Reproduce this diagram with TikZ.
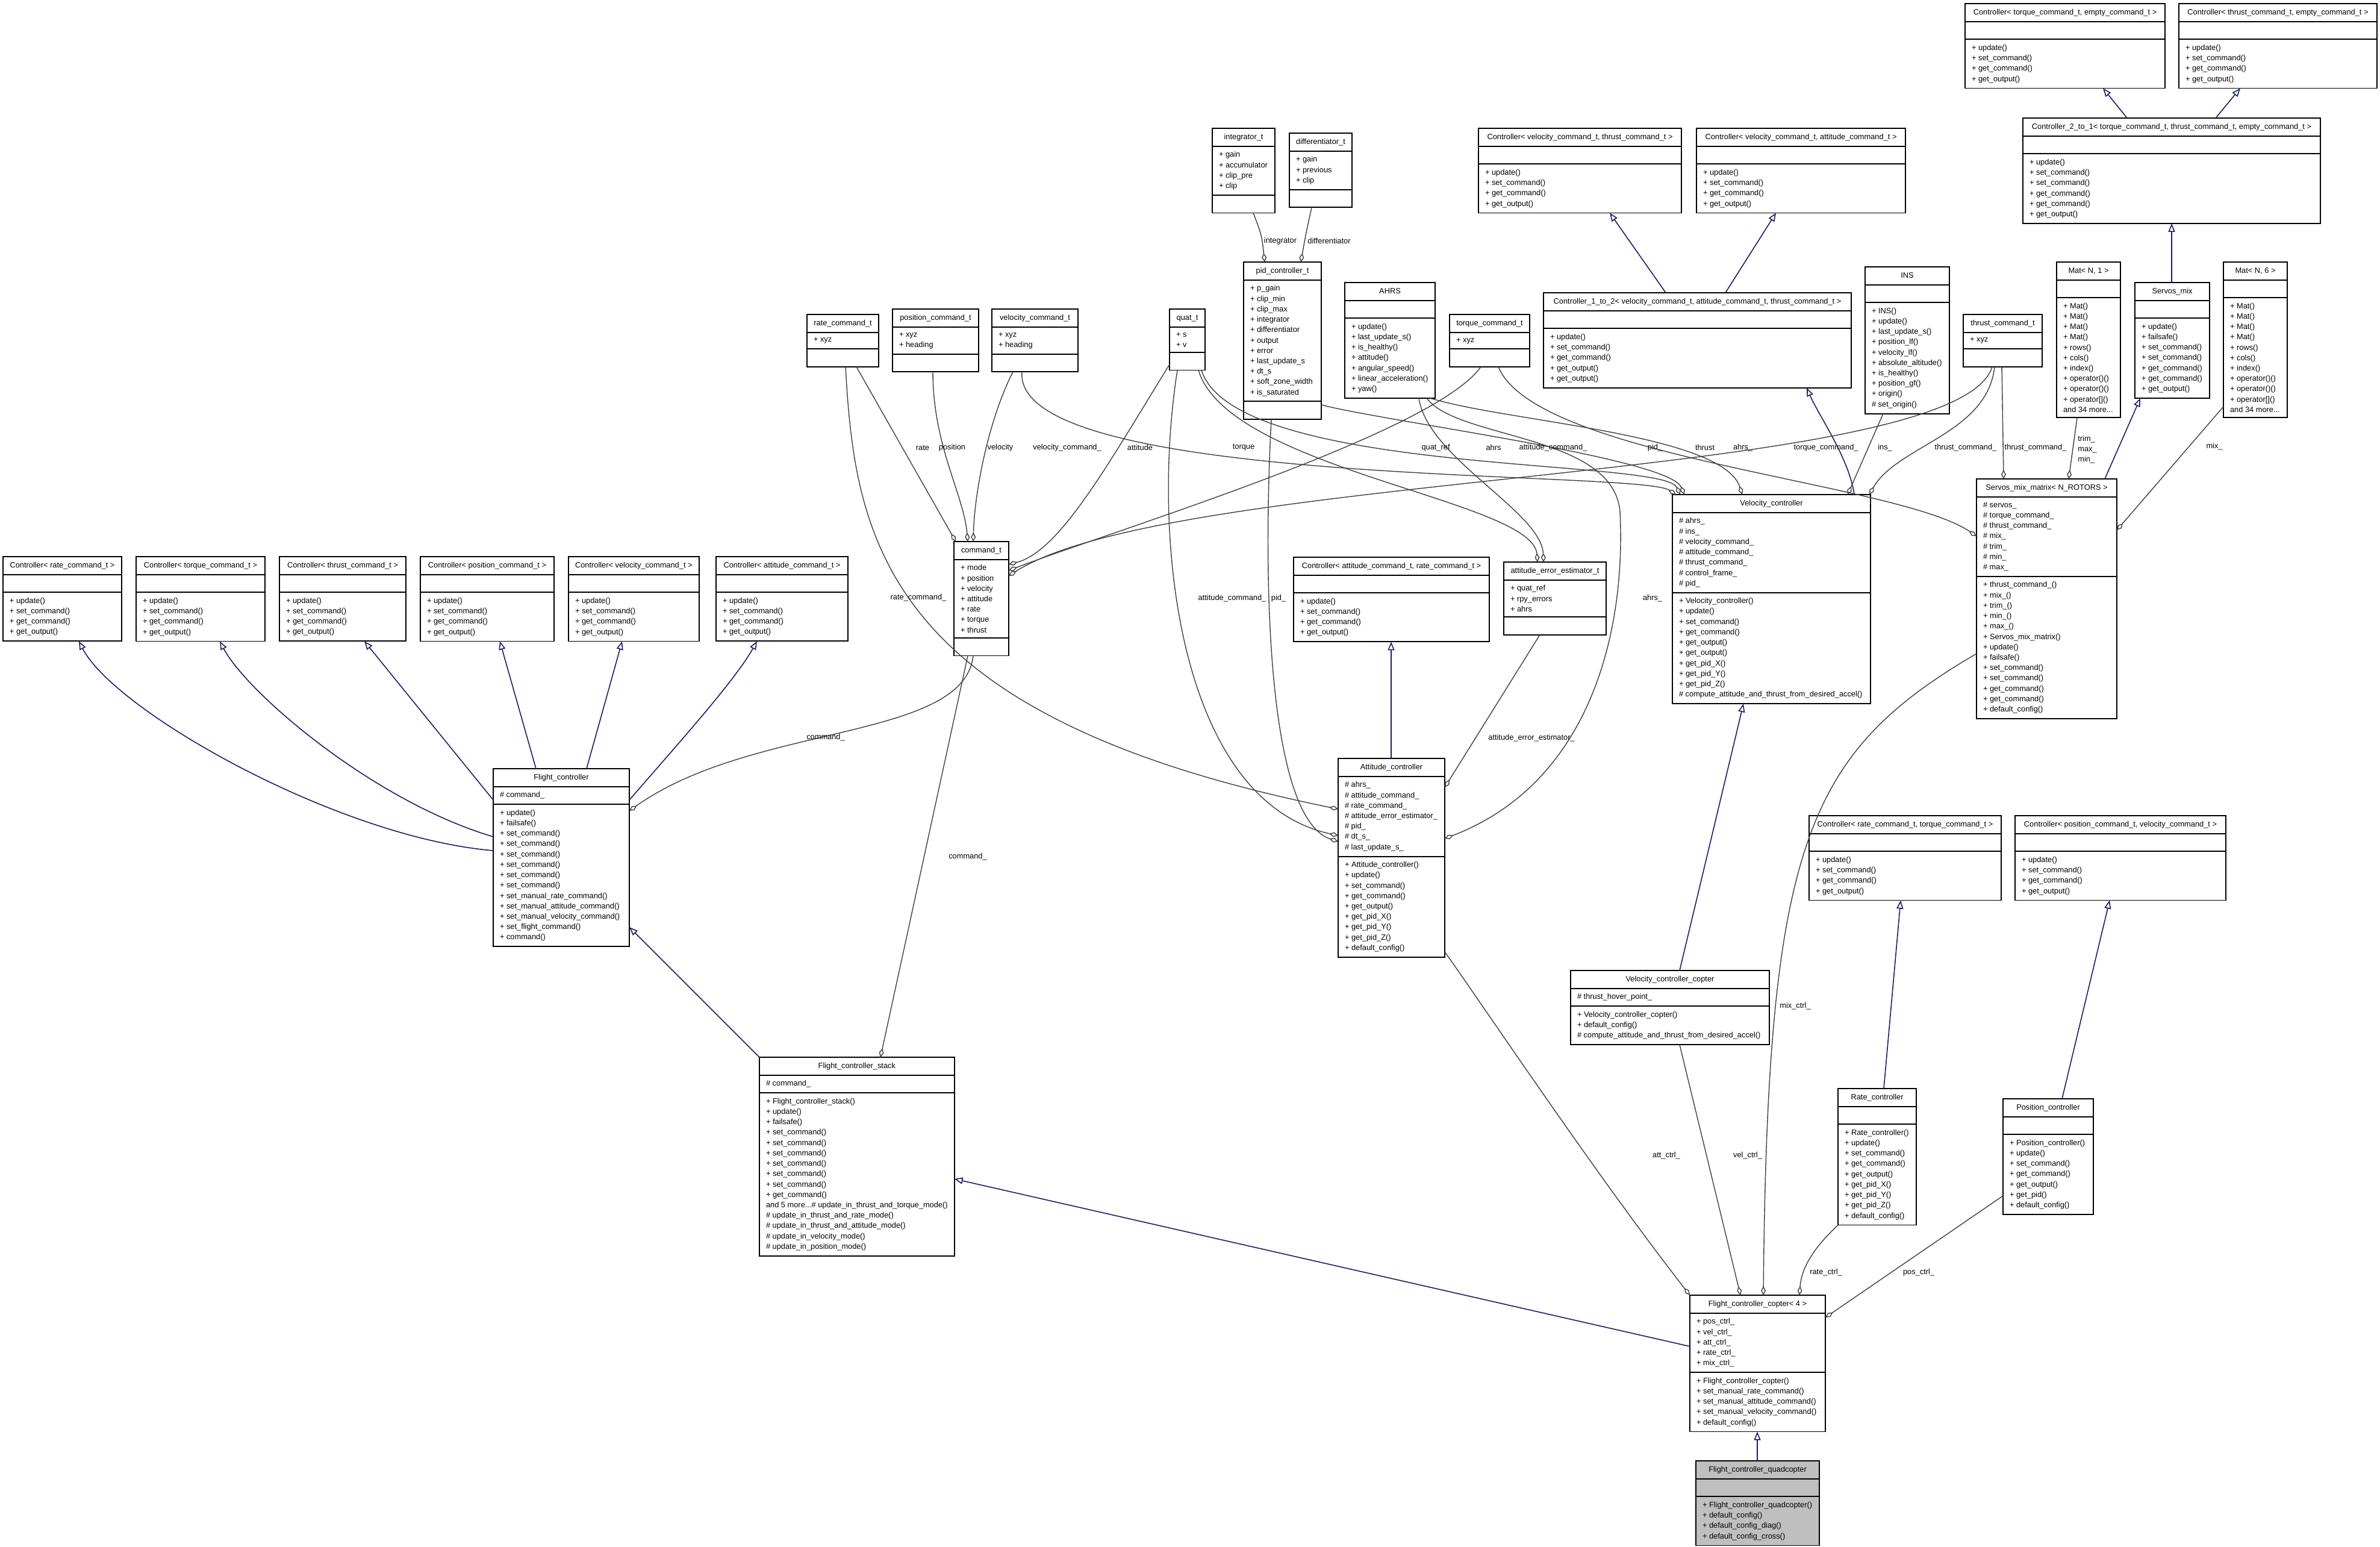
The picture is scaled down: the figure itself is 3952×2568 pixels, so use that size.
\documentclass[tikz,border=0pt]{standalone}
\usepackage{fontspec}
\setmainfont{Liberation Sans}
\usetikzlibrary{shapes.multipart,arrows.meta}
\definecolor{edgegray}{HTML}{404040}
\definecolor{inhblue}{HTML}{191970}
\definecolor{focusgray}{HTML}{BFBFBF}
\newcommand\clsfont{\fontsize{3.65}{4.9}\selectfont}
\newcommand\tstrut{\rule[-0.7pt]{0pt}{3.45pt}}
\newcommand\estrut{\rule{0pt}{3.4pt}}
\newcommand\ctlops{+ update()\\+ set\_command()\\+ get\_command()\\+ get\_output()}
\tikzset{
  cls/.style={rectangle split, rectangle split parts=3,
    rectangle split part align={center,left,left},
    draw=black, line width=0.55pt, fill=white, anchor=north west,
    inner xsep=1.1mm, inner ysep=0.78mm, outer sep=0pt, align=left},
  agg/.style={draw=edgegray, line width=0.4pt, {Diamond[open,length=1.5mm,width=0.8mm]}-},
  inh/.style={draw=inhblue, line width=0.45pt, -{Triangle[open,length=1.4mm,width=1.1mm]}},
  lbl/.style={inner sep=0pt, align=center}
}
\begin{document}
\begin{tikzpicture}[x=0.1mm, y=-0.1mm, every node/.style={font=\clsfont}]
\useasboundingbox (0,0) rectangle (3952,2568);

% generic controllers, left row
\node[cls, minimum width=19.7mm] (ctrte) at (5,924) {\tstrut Controller< rate\_command\_t >\nodepart{two}\estrut\nodepart{three}\ctlops};
\node[cls, minimum width=21.4mm] (cttrq) at (226,924) {\tstrut Controller< torque\_command\_t >\nodepart{two}\estrut\nodepart{three}\ctlops};
\node[cls, minimum width=21.0mm] (ctthr) at (464,924) {\tstrut Controller< thrust\_command\_t >\nodepart{two}\estrut\nodepart{three}\ctlops};
\node[cls, minimum width=22.2mm] (ctpos) at (698,924) {\tstrut Controller< position\_command\_t >\nodepart{two}\estrut\nodepart{three}\ctlops};
\node[cls, minimum width=20.6mm] (ctvel) at (944,924) {\tstrut Controller< velocity\_command\_t >\nodepart{two}\estrut\nodepart{three}\ctlops};
\node[cls, minimum width=21.9mm] (ctatt) at (1189,924) {\tstrut Controller< attitude\_command\_t >\nodepart{two}\estrut\nodepart{three}\ctlops};

% flight controllers
\node[cls, minimum width=22.6mm] (fc) at (819,1276) {\tstrut Flight\_controller\nodepart{two}\# command\_\nodepart{three}+ update()\\+ failsafe()\\+ set\_command()\\+ set\_command()\\+ set\_command()\\+ set\_command()\\+ set\_command()\\+ set\_command()\\+ set\_manual\_rate\_command()\\+ set\_manual\_attitude\_command()\\+ set\_manual\_velocity\_command()\\+ set\_flight\_command()\\+ command()};
\node[cls, minimum width=32.3mm] (fcs) at (1261,1755) {\tstrut Flight\_controller\_stack\nodepart{two}\# command\_\nodepart{three}+ Flight\_controller\_stack()\\+ update()\\+ failsafe()\\+ set\_command()\\+ set\_command()\\+ set\_command()\\+ set\_command()\\+ set\_command()\\+ set\_command()\\+ get\_command()\\and 5 more...\# update\_in\_thrust\_and\_torque\_mode()\\\# update\_in\_thrust\_and\_rate\_mode()\\\# update\_in\_thrust\_and\_attitude\_mode()\\\# update\_in\_velocity\_mode()\\\# update\_in\_position\_mode()};
\node[cls, minimum width=22.5mm] (fcc) at (2806,2150) {\tstrut Flight\_controller\_copter< 4 >\nodepart{two}+ pos\_ctrl\_\\+ vel\_ctrl\_\\+ att\_ctrl\_\\+ rate\_ctrl\_\\+ mix\_ctrl\_\nodepart{three}+ Flight\_controller\_copter()\\+ set\_manual\_rate\_command()\\+ set\_manual\_attitude\_command()\\+ set\_manual\_velocity\_command()\\+ default\_config()};
\node[cls, fill=focusgray, minimum width=20.5mm] (fcq) at (2816,2425) {\tstrut Flight\_controller\_quadcopter\nodepart{two}\estrut\nodepart{three}+ Flight\_controller\_quadcopter()\\+ default\_config()\\+ default\_config\_diag()\\+ default\_config\_cross()};

% command types
\node[cls, minimum width=9.1mm] (cmd) at (1584,899) {\tstrut command\_t\nodepart{two}+ mode\\+ position\\+ velocity\\+ attitude\\+ rate\\+ torque\\+ thrust\nodepart{three}\estrut};
\node[cls, minimum width=11.9mm] (ratecmd) at (1340,522) {\tstrut rate\_command\_t\nodepart{two}+ xyz\nodepart{three}\estrut};
\node[cls, minimum width=14.3mm] (poscmd) at (1482,513) {\tstrut position\_command\_t\nodepart{two}+ xyz\\+ heading\nodepart{three}\estrut};
\node[cls, minimum width=14.3mm] (velcmd) at (1647,513) {\tstrut velocity\_command\_t\nodepart{two}+ xyz\\+ heading\nodepart{three}\estrut};
\node[cls, minimum width=5.9mm] (quat) at (1942,513) {\tstrut quat\_t\nodepart{two}+ s\\+ v\nodepart{three}\estrut};
\node[cls, minimum width=13.3mm] (trqcmd) at (2407,522) {\tstrut torque\_command\_t\nodepart{two}+ xyz\nodepart{three}\estrut};
\node[cls, minimum width=13.1mm] (thrcmd) at (3260,522) {\tstrut thrust\_command\_t\nodepart{two}+ xyz\nodepart{three}\estrut};

% pid and estimators
\node[cls, minimum width=10.4mm] (integ) at (2013,213) {\tstrut integrator\_t\nodepart{two}+ gain\\+ accumulator\\+ clip\_pre\\+ clip\nodepart{three}\estrut};
\node[cls, minimum width=10.4mm] (diff) at (2141,221) {\tstrut differentiator\_t\nodepart{two}+ gain\\+ previous\\+ clip\nodepart{three}\estrut};
\node[cls, minimum width=12.9mm] (pid) at (2065,435) {\tstrut pid\_controller\_t\nodepart{two}+ p\_gain\\+ clip\_min\\+ clip\_max\\+ integrator\\+ differentiator\\+ output\\+ error\\+ last\_update\_s\\+ dt\_s\\+ soft\_zone\_width\\+ is\_saturated\nodepart{three}\estrut};
\node[cls, minimum width=15.0mm] (ahrs) at (2233,469) {\tstrut AHRS\nodepart{two}\estrut\nodepart{three}+ update()\\+ last\_update\_s()\\+ is\_healthy()\\+ attitude()\\+ angular\_speed()\\+ linear\_acceleration()\\+ yaw()};
\node[cls, minimum width=14.0mm] (ins) at (3097,443) {\tstrut INS\nodepart{two}\estrut\nodepart{three}+ INS()\\+ update()\\+ last\_update\_s()\\+ position\_lf()\\+ velocity\_lf()\\+ absolute\_altitude()\\+ is\_healthy()\\+ position\_gf()\\+ origin()\\\# set\_origin()};
\node[cls, minimum width=17.0mm] (aee) at (2497,933) {\tstrut attitude\_error\_estimator\_t\nodepart{two}+ quat\_ref\\+ rpy\_errors\\+ ahrs\nodepart{three}\estrut};

% velocity branch
\node[cls, minimum width=33.7mm] (ctvt) at (2455,213) {\tstrut Controller< velocity\_command\_t, thrust\_command\_t >\nodepart{two}\estrut\nodepart{three}\ctlops};
\node[cls, minimum width=34.7mm] (ctva) at (2817,213) {\tstrut Controller< velocity\_command\_t, attitude\_command\_t >\nodepart{two}\estrut\nodepart{three}\ctlops};
\node[cls, minimum width=51.1mm] (c12) at (2563,486) {\tstrut Controller\_1\_to\_2< velocity\_command\_t, attitude\_command\_t, thrust\_command\_t >\nodepart{two}\estrut\nodepart{three}+ update()\\+ set\_command()\\+ get\_command()\\+ get\_output()\\+ get\_output()};
\node[cls, minimum width=32.9mm] (velc) at (2777,821) {\tstrut Velocity\_controller\nodepart{two}\# ahrs\_\\\# ins\_\\\# velocity\_command\_\\\# attitude\_command\_\\\# thrust\_command\_\\\# control\_frame\_\\\# pid\_\nodepart{three}+ Velocity\_controller()\\+ update()\\+ set\_command()\\+ get\_command()\\+ get\_output()\\+ get\_output()\\+ get\_pid\_X()\\+ get\_pid\_Y()\\+ get\_pid\_Z()\\\# compute\_attitude\_and\_thrust\_from\_desired\_accel()};
\node[cls, minimum width=33.0mm] (velcc) at (2608,1611) {\tstrut Velocity\_controller\_copter\nodepart{two}\# thrust\_hover\_point\_\nodepart{three}+ Velocity\_controller\_copter()\\+ default\_config()\\\# compute\_attitude\_and\_thrust\_from\_desired\_accel()};

% attitude branch
\node[cls, minimum width=32.5mm] (ctar) at (2148,925) {\tstrut Controller< attitude\_command\_t, rate\_command\_t >\nodepart{two}\estrut\nodepart{three}\ctlops};
\node[cls, minimum width=17.7mm] (attc) at (2222,1259) {\tstrut Attitude\_controller\nodepart{two}\# ahrs\_\\\# attitude\_command\_\\\# rate\_command\_\\\# attitude\_error\_estimator\_\\\# pid\_\\\# dt\_s\_\\\# last\_update\_s\_\nodepart{three}+ Attitude\_controller()\\+ update()\\+ set\_command()\\+ get\_command()\\+ get\_output()\\+ get\_pid\_X()\\+ get\_pid\_Y()\\+ get\_pid\_Z()\\+ default\_config()};

% rate and position branch
\node[cls, minimum width=31.9mm] (ctrt) at (3004,1354) {\tstrut Controller< rate\_command\_t, torque\_command\_t >\nodepart{two}\estrut\nodepart{three}\ctlops};
\node[cls, minimum width=35.0mm] (ctpv) at (3346,1354) {\tstrut Controller< position\_command\_t, velocity\_command\_t >\nodepart{two}\estrut\nodepart{three}\ctlops};
\node[cls, minimum width=13.0mm] (ratec) at (3052,1807) {\tstrut Rate\_controller\nodepart{two}\estrut\nodepart{three}+ Rate\_controller()\\+ update()\\+ set\_command()\\+ get\_command()\\+ get\_output()\\+ get\_pid\_X()\\+ get\_pid\_Y()\\+ get\_pid\_Z()\\+ default\_config()};
\node[cls, minimum width=15.0mm] (posc) at (3326,1824) {\tstrut Position\_controller\nodepart{two}\estrut\nodepart{three}+ Position\_controller()\\+ update()\\+ set\_command()\\+ get\_command()\\+ get\_output()\\+ get\_pid()\\+ default\_config()};

% mixing branch
\node[cls, minimum width=33.2mm] (cte1) at (3263,6) {\tstrut Controller< torque\_command\_t, empty\_command\_t >\nodepart{two}\estrut\nodepart{three}\ctlops};
\node[cls, minimum width=32.9mm] (cte2) at (3618,6) {\tstrut Controller< thrust\_command\_t, empty\_command\_t >\nodepart{two}\estrut\nodepart{three}\ctlops};
\node[cls, minimum width=49.4mm] (c21) at (3359,196) {\tstrut Controller\_2\_to\_1< torque\_command\_t, thrust\_command\_t, empty\_command\_t >\nodepart{two}\estrut\nodepart{three}+ update()\\+ set\_command()\\+ set\_command()\\+ get\_command()\\+ get\_command()\\+ get\_output()};
\node[cls, minimum width=10.6mm] (matn1) at (3415,435) {\tstrut Mat< N, 1 >\nodepart{two}\estrut\nodepart{three}+ Mat()\\+ Mat()\\+ Mat()\\+ Mat()\\+ rows()\\+ cols()\\+ index()\\+ operator()()\\+ operator()()\\+ operator[]()\\and 34 more...};
\node[cls, minimum width=12.4mm] (smix) at (3545,469) {\tstrut Servos\_mix\nodepart{two}\estrut\nodepart{three}+ update()\\+ failsafe()\\+ set\_command()\\+ set\_command()\\+ get\_command()\\+ get\_command()\\+ get\_output()};
\node[cls, minimum width=10.6mm] (matn6) at (3692,435) {\tstrut Mat< N, 6 >\nodepart{two}\estrut\nodepart{three}+ Mat()\\+ Mat()\\+ Mat()\\+ Mat()\\+ rows()\\+ cols()\\+ index()\\+ operator()()\\+ operator()()\\+ operator[]()\\and 34 more...};
\node[cls, minimum width=23.3mm] (smm) at (3282,795) {\tstrut Servos\_mix\_matrix< N\_ROTORS >\nodepart{two}\# servos\_\\\# torque\_command\_\\\# thrust\_command\_\\\# mix\_\\\# trim\_\\\# min\_\\\# max\_\nodepart{three}+ thrust\_command\_()\\+ mix\_()\\+ trim\_()\\+ min\_()\\+ max\_()\\+ Servos\_mix\_matrix()\\+ update()\\+ failsafe()\\+ set\_command()\\+ set\_command()\\+ get\_command()\\+ get\_command()\\+ default\_config()};

% inheritance
\draw[inh] (c21.north -| 3532,0) -- (cte1.south -| 3492,0);
\draw[inh] (c21.north -| 3679,0) -- (cte2.south -| 3720,0);
\draw[inh] (smix.north -| 3606,0) -- (c21.south -| 3606,0);
\draw[inh] (smm.north -| 3495,0) -- (smix.south -| 3554,0);
\draw[inh] (c12.north -| 2766,0) -- (ctvt.south -| 2673,0);
\draw[inh] (c12.north -| 2865,0) -- (ctva.south -| 2949,0);
\draw[inh] (velc.north -| 3079,0) .. controls (3070,760) and (3020,690) .. (c12.south -| 3000,0);
\draw[inh] (fc.west |- 0,1412) .. controls (560,1390) and (190,1180) .. (ctrte.south -| 131,0);
\draw[inh] (fc.west |- 0,1389) .. controls (620,1330) and (410,1150) .. (cttrq.south -| 365,0);
\draw[inh] (fc.west |- 0,1328) -- (ctthr.south -| 605,0);
\draw[inh] (fc.north -| 890,0) -- (ctpos.south -| 830,0);
\draw[inh] (fc.north -| 974,0) -- (ctvel.south -| 1033,0);
\draw[inh] (fc.east |- 0,1328) .. controls (1130,1230) and (1220,1130) .. (ctatt.south -| 1257,0);
\draw[inh] (fcs.north west) -- (fc.east |- 0,1539);
\draw[inh] (fcc.west |- 0,2235) -- (fcs.east |- 0,1957);
\draw[inh] (fcq.north -| 2918,0) -- (fcc.south -| 2918,0);
\draw[inh] (attc.north -| 2310,0) -- (ctar.south -| 2310,0);
\draw[inh] (velcc.north -| 2789,0) -- (velc.south -| 2895,0);
\draw[inh] (ratec.north -| 3128,0) -- (ctrt.south -| 3156,0);
\draw[inh] (posc.north -| 3424,0) -- (ctpv.south -| 3503,0);

% aggregation
\draw[agg] (pid.north -| 2100,0) .. controls (2095,390) .. (integ.south -| 2081,0);
\draw[agg] (pid.north -| 2160,0) .. controls (2168,390) .. (diff.south -| 2178,0);
\draw[agg] (cmd.north -| 1587,0) -- (ratecmd.south -| 1422,0);
\draw[agg] (cmd.north -| 1607,0) .. controls (1600,820) and (1549,740) .. (poscmd.south -| 1549,0);
\draw[agg] (cmd.north -| 1616,0) .. controls (1618,820) and (1640,700) .. (velcmd.south -| 1682,0);
\draw[agg] (cmd.east |- 0,937) .. controls (1760,915) and (1840,770) .. (quat.west |- 0,605);
\draw[agg] (cmd.east |- 0,947) .. controls (1850,880) and (2380,720) .. (trqcmd.south -| 2459,0);
\draw[agg] (cmd.east |- 0,956) .. controls (1950,780) and (3250,800) .. (thrcmd.south -| 3308,0);
\draw[agg] (attc.west |- 0,1343) .. controls (1470,1190) and (1420,900) .. (ratecmd.south -| 1404,0);
\draw[agg] (attc.west |- 0,1387) .. controls (1960,1330) and (1910,900) .. (quat.south -| 1955,0);
\draw[agg] (attc.west |- 0,1397) .. controls (2110,1360) and (2095,1000) .. (pid.south -| 2111,0);
\draw[agg] (attc.east |- 0,1307) -- (aee.south -| 2557,0);
\draw[agg] (attc.east |- 0,1392) .. controls (2640,1300) and (2700,1050) .. (2690,850) .. controls (2680,720) and (2420,730) .. (ahrs.south -| 2369,0);
\draw[agg] (aee.north -| 2553,0) .. controls (2545,830) and (2040,780) .. (quat.south -| 1990,0);
\draw[agg] (aee.north -| 2563,0) .. controls (2560,850) and (2370,760) .. (ahrs.south -| 2356,0);
\draw[agg] (velc.north -| 2783,0) .. controls (2720,780) and (1680,810) .. (velcmd.south -| 1697,0);
\draw[agg] (velc.north -| 2790,0) .. controls (2760,760) and (2050,790) .. (quat.south -| 1995,0);
\draw[agg] (velc.north -| 2797,0) .. controls (2770,760) and (2300,700) .. (pid.east |- 0,672);
\draw[agg] (velc.north -| 2893,0) .. controls (2860,720) and (2500,700) .. (ahrs.south -| 2375,0);
\draw[agg] (velc.north -| 3068,0) -- (ins.south -| 3127,0);
\draw[agg] (velc.north -| 3104,0) .. controls (3150,740) and (3300,720) .. (thrcmd.south -| 3312,0);
\draw[agg] (smm.west |- 0,890) .. controls (3150,800) and (2550,760) .. (trqcmd.south -| 2488,0);
\draw[agg] (smm.north -| 3327,0) -- (thrcmd.south -| 3324,0);
\draw[agg] (smm.north -| 3435,0) -- (matn1.south -| 3449,0);
\draw[agg] (smm.east |- 0,880) -- (matn6.west |- 0,675);
\draw[agg] (fc.east |- 0,1346) .. controls (1250,1200) and (1600,1230) .. (cmd.south -| 1616,0);
\draw[agg] (fcs.north -| 1462,0) -- (cmd.south -| 1607,0);
\draw[agg] (fcc.north west) .. controls (2650,1950) and (2470,1680) .. (attc.east |- 0,1580);
\draw[agg] (fcc.north -| 2890,0) -- (velcc.south -| 2789,0);
\draw[agg] (fcc.north -| 2928,0) .. controls (2935,1400) and (3000,1250) .. (smm.west |- 0,1085);
\draw[agg] (fcc.north -| 2988,0) .. controls (2992,2090) and (3035,2050) .. (ratec.south west);
\draw[agg] (fcc.east |- 0,2187) -- (posc.west |- 0,1985);

% edge labels
\node[lbl] (lint) at (2126,400) {integrator};
\node[lbl] (ldif) at (2207,400) {differentiator};
\node[lbl] (lrate) at (1532,743) {rate};
\node[lbl] (lpos) at (1581,743) {position};
\node[lbl] (lvel) at (1661,743) {velocity};
\node[lbl] (lvcmd) at (1772,743) {velocity\_command\_};
\node[lbl] (latt) at (1893,743) {attitude};
\node[lbl] (ltrq) at (2065,743) {torque};
\node[lbl] (lqref) at (2384,743) {quat\_ref};
\node[lbl] (lahrs) at (2480,743) {ahrs};
\node[lbl] (lacmd) at (2579,743) {attitude\_command\_};
\node[lbl] (lpid) at (2748,743) {pid\_};
\node[lbl] (lthr) at (2831,743) {thrust};
\node[lbl] (lahrsv) at (2894,743) {ahrs\_};
\node[lbl] (ltcmd) at (3032,743) {torque\_command\_};
\node[lbl] (lins) at (3130,743) {ins\_};
\node[lbl] (lthcv) at (3264,743) {thrust\_command\_};
\node[lbl] (lthcs) at (3380,743) {thrust\_command\_};
\node[lbl, align=left] (ltrim) at (3466,746) {trim\_\\max\_\\min\_};
\node[lbl] (lmix) at (3677,741) {mix\_};
\node[lbl] (lrcmd) at (1525,992) {rate\_command\_};
\node[lbl] (lacmda) at (2046,993) {attitude\_command\_};
\node[lbl] (lpida) at (2123,993) {pid\_};
\node[lbl] (lahrsa) at (2744,993) {ahrs\_};
\node[lbl] (laee) at (2543,1225) {attitude\_error\_estimator\_};
\node[lbl] (lcmdf) at (1371,1224) {command\_};
\node[lbl] (lcmds) at (1607,1422) {command\_};
\node[lbl] (lmixc) at (2981,1670) {mix\_ctrl\_};
\node[lbl] (lattc) at (2767,1918) {att\_ctrl\_};
\node[lbl] (lvelc) at (2902,1918) {vel\_ctrl\_};
\node[lbl] (lratec) at (3032,2112) {rate\_ctrl\_};
\node[lbl] (lposc) at (3186,2112) {pos\_ctrl\_};
\end{tikzpicture}
\end{document}
